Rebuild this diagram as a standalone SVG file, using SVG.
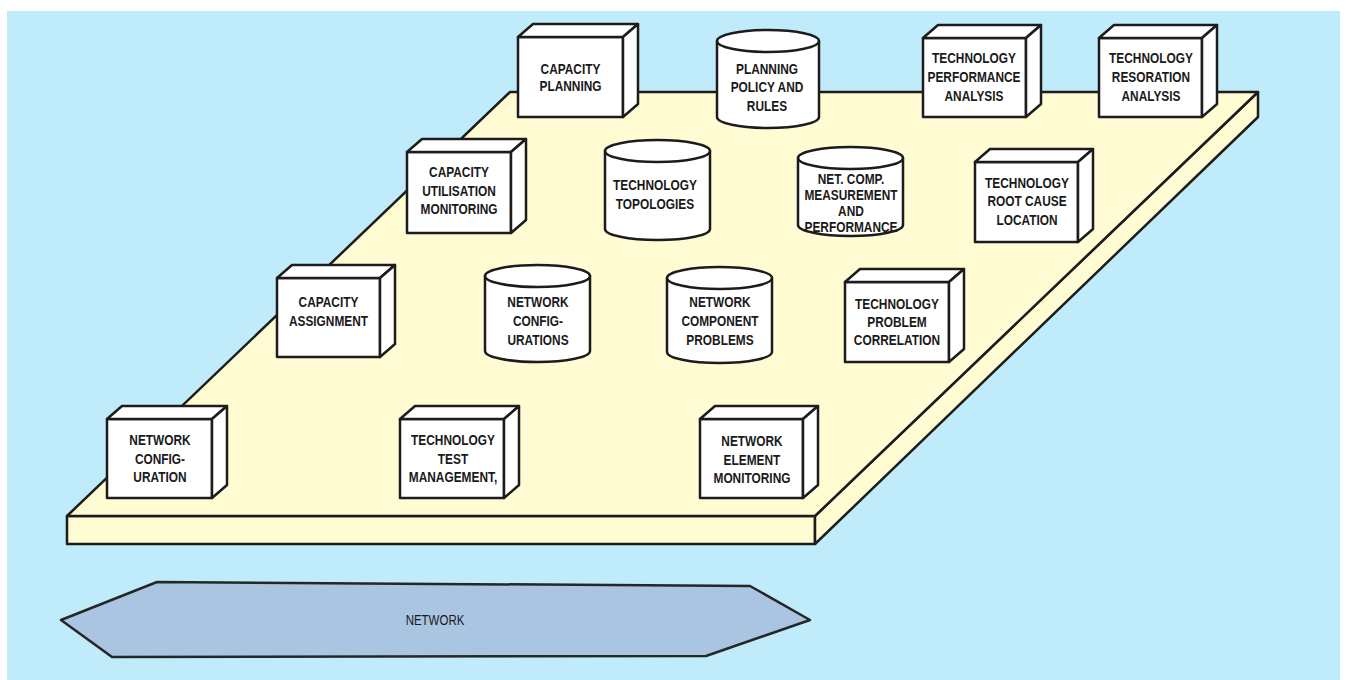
<svg xmlns="http://www.w3.org/2000/svg" width="1346" height="680" viewBox="0 0 1346 680">
  <style>
    .bg { fill: #bfebfa; }
    .slab { fill: #fffbd2; stroke: #1c1c1c; stroke-width: 2.5; stroke-linejoin: round; }
    .face { fill: #ffffff; stroke: #1c1c1c; stroke-width: 2.5; stroke-linejoin: round; }
    .net { fill: #a9c5e1; stroke: #262626; stroke-width: 2.5; stroke-linejoin: round; }
    .lbl { font-family: "Liberation Sans Narrow", "Liberation Sans", Arial, sans-serif; font-weight: bold; font-size: 14.5px; fill: #1a1a1a; text-anchor: middle; }
    .netlbl { font-family: "Liberation Sans Narrow", "Liberation Sans", Arial, sans-serif; font-size: 14px; fill: #1a1a1a; text-anchor: middle; }
  </style>

  <!-- backdrop -->
  <rect x="0" y="0" width="1346" height="680" fill="#ffffff"/>
  <rect class="bg" x="7" y="11" width="1333" height="669"/>

  <!-- platform slab -->
  <g id="platform">
    <rect class="slab" x="67" y="516" width="748" height="28"/>
    <polygon class="slab" points="815,516 1258,92 1258,117 815,544"/>
    <polygon class="slab" points="510,92 1258,92 815,516 67,516"/>
  </g>

  <!-- network band; labels are condensed horizontally about their centre -->
  <g id="network">
    <polygon class="net" points="61,620 157,582 750,586 810,620 706,656 112,657"/>
    <g transform="matrix(0.82 0 0 1 78.3 0)">
      <text class="netlbl" x="435" y="625">NETWORK</text>
    </g>
  </g>

  <g id="connectors"></g>

  <!-- back row -->
  <g id="capacity-planning">
    <rect class="face" x="518" y="37" width="105" height="80"/>
    <polygon class="face" points="518,37 533,24 638,24 623,37"/>
    <polygon class="face" points="623,37 638,24 638,104 623,117"/>
    <g transform="matrix(0.82 0 0 1 102.69 0)">
      <text class="lbl" x="570.5" y="74">CAPACITY</text>
      <text class="lbl" x="570.5" y="91">PLANNING</text>
    </g>
  </g>

  <g id="planning-policy">
    <path class="face" d="M717,41 L717,117 A51,11 0 0 0 819,117 L819,41 Z"/>
    <ellipse class="face" cx="768" cy="41" rx="51" ry="11"/>
    <g transform="matrix(0.82 0 0 1 138.06 0)">
      <text class="lbl" x="767" y="74">PLANNING</text>
      <text class="lbl" x="767" y="92.5">POLICY AND</text>
      <text class="lbl" x="767" y="111">RULES</text>
    </g>
  </g>

  <g id="tech-performance-analysis">
    <rect class="face" x="923" y="38" width="103" height="79"/>
    <polygon class="face" points="923,38 938,25 1041,25 1026,38"/>
    <polygon class="face" points="1026,38 1041,25 1041,104 1026,117"/>
    <g transform="matrix(0.82 0 0 1 175.32 0)">
      <text class="lbl" x="974" y="63.5">TECHNOLOGY</text>
      <text class="lbl" x="974" y="82.5">PERFORMANCE</text>
      <text class="lbl" x="974" y="101">ANALYSIS</text>
    </g>
  </g>

  <g id="tech-restoration-analysis">
    <rect class="face" x="1099" y="38" width="103" height="79"/>
    <polygon class="face" points="1099,38 1114,25 1217,25 1202,38"/>
    <polygon class="face" points="1202,38 1217,25 1217,104 1202,117"/>
    <g transform="matrix(0.82 0 0 1 207.18 0)">
      <text class="lbl" x="1151" y="63.5">TECHNOLOGY</text>
      <text class="lbl" x="1151" y="82.5">RESORATION</text>
      <text class="lbl" x="1151" y="101">ANALYSIS</text>
    </g>
  </g>

  <!-- second row -->
  <g id="capacity-utilisation">
    <rect class="face" x="407" y="152" width="104" height="81"/>
    <polygon class="face" points="407,152 422,139 526,139 511,152"/>
    <polygon class="face" points="511,152 526,139 526,220 511,233"/>
    <g transform="matrix(0.82 0 0 1 82.62 0)">
      <text class="lbl" x="459" y="177">CAPACITY</text>
      <text class="lbl" x="459" y="196">UTILISATION</text>
      <text class="lbl" x="459" y="214">MONITORING</text>
    </g>
  </g>

  <g id="tech-topologies">
    <path class="face" d="M605,151 L605,229 A52.5,11 0 0 0 710,229 L710,151 Z"/>
    <ellipse class="face" cx="657.5" cy="151" rx="52.5" ry="11"/>
    <g transform="matrix(0.82 0 0 1 117.9 0)">
      <text class="lbl" x="655" y="190.5">TECHNOLOGY</text>
      <text class="lbl" x="655" y="209.5">TOPOLOGIES</text>
    </g>
  </g>

  <g id="net-comp-measurement">
    <path class="face" d="M798,158 L798,225 A52.5,11 0 0 0 903,225 L903,158 Z"/>
    <ellipse class="face" cx="850.5" cy="158" rx="52.5" ry="11"/>
    <g transform="matrix(0.82 0 0 1 153.18 0)">
      <text class="lbl" x="851" y="184">NET. COMP.</text>
      <text class="lbl" x="851" y="200.5">MEASUREMENT</text>
      <text class="lbl" x="851" y="216">AND</text>
      <text class="lbl" x="851" y="232">PERFORMANCE</text>
    </g>
  </g>

  <g id="tech-root-cause">
    <rect class="face" x="975" y="162" width="103" height="80"/>
    <polygon class="face" points="975,162 990,149 1093,149 1078,162"/>
    <polygon class="face" points="1078,162 1093,149 1093,229 1078,242"/>
    <g transform="matrix(0.82 0 0 1 184.86 0)">
      <text class="lbl" x="1027" y="188">TECHNOLOGY</text>
      <text class="lbl" x="1027" y="206.5">ROOT CAUSE</text>
      <text class="lbl" x="1027" y="225.5">LOCATION</text>
    </g>
  </g>

  <!-- third row -->
  <g id="capacity-assignment">
    <rect class="face" x="277" y="278" width="103" height="79"/>
    <polygon class="face" points="277,278 292,265 395,265 380,278"/>
    <polygon class="face" points="380,278 395,265 395,344 380,357"/>
    <g transform="matrix(0.82 0 0 1 59.13 0)">
      <text class="lbl" x="328.5" y="307.5">CAPACITY</text>
      <text class="lbl" x="328.5" y="326">ASSIGNMENT</text>
    </g>
  </g>

  <g id="network-configurations">
    <path class="face" d="M485,276 L485,351 A52.5,11 0 0 0 590,351 L590,276 Z"/>
    <ellipse class="face" cx="537.5" cy="276" rx="52.5" ry="11"/>
    <g transform="matrix(0.82 0 0 1 96.84 0)">
      <text class="lbl" x="538" y="307.5">NETWORK</text>
      <text class="lbl" x="538" y="326.5">CONFIG-</text>
      <text class="lbl" x="538" y="345">URATIONS</text>
    </g>
  </g>

  <g id="network-component-problems">
    <path class="face" d="M667,278 L667,352 A52.5,11 0 0 0 772,352 L772,278 Z"/>
    <ellipse class="face" cx="719.5" cy="278" rx="52.5" ry="11"/>
    <g transform="matrix(0.82 0 0 1 129.6 0)">
      <text class="lbl" x="720" y="307.5">NETWORK</text>
      <text class="lbl" x="720" y="326.5">COMPONENT</text>
      <text class="lbl" x="720" y="345">PROBLEMS</text>
    </g>
  </g>

  <g id="tech-problem-correlation">
    <rect class="face" x="845" y="282" width="104" height="80"/>
    <polygon class="face" points="845,282 860,269 964,269 949,282"/>
    <polygon class="face" points="949,282 964,269 964,349 949,362"/>
    <g transform="matrix(0.82 0 0 1 161.46 0)">
      <text class="lbl" x="897" y="309">TECHNOLOGY</text>
      <text class="lbl" x="897" y="327.5">PROBLEM</text>
      <text class="lbl" x="897" y="345">CORRELATION</text>
    </g>
  </g>

  <!-- front row -->
  <g id="network-configuration">
    <rect class="face" x="107" y="419" width="105" height="79"/>
    <polygon class="face" points="107,419 122,406 227,406 212,419"/>
    <polygon class="face" points="212,419 227,406 227,485 212,498"/>
    <g transform="matrix(0.82 0 0 1 28.8 0)">
      <text class="lbl" x="160" y="445">NETWORK</text>
      <text class="lbl" x="160" y="464">CONFIG-</text>
      <text class="lbl" x="160" y="482.5">URATION</text>
    </g>
  </g>

  <g id="tech-test-management">
    <rect class="face" x="400" y="419" width="104" height="79"/>
    <polygon class="face" points="400,419 415,406 519,406 504,419"/>
    <polygon class="face" points="504,419 519,406 519,485 504,498"/>
    <g transform="matrix(0.82 0 0 1 81.54 0)">
      <text class="lbl" x="453" y="445">TECHNOLOGY</text>
      <text class="lbl" x="453" y="464">TEST</text>
      <text class="lbl" x="453" y="482.5">MANAGEMENT,</text>
    </g>
  </g>

  <g id="network-element-monitoring">
    <rect class="face" x="700" y="419" width="103" height="79"/>
    <polygon class="face" points="700,419 715,406 818,406 803,419"/>
    <polygon class="face" points="803,419 818,406 818,485 803,498"/>
    <g transform="matrix(0.82 0 0 1 135.36 0)">
      <text class="lbl" x="752" y="446.5">NETWORK</text>
      <text class="lbl" x="752" y="465.5">ELEMENT</text>
      <text class="lbl" x="752" y="483.5">MONITORING</text>
    </g>
  </g>
</svg>
